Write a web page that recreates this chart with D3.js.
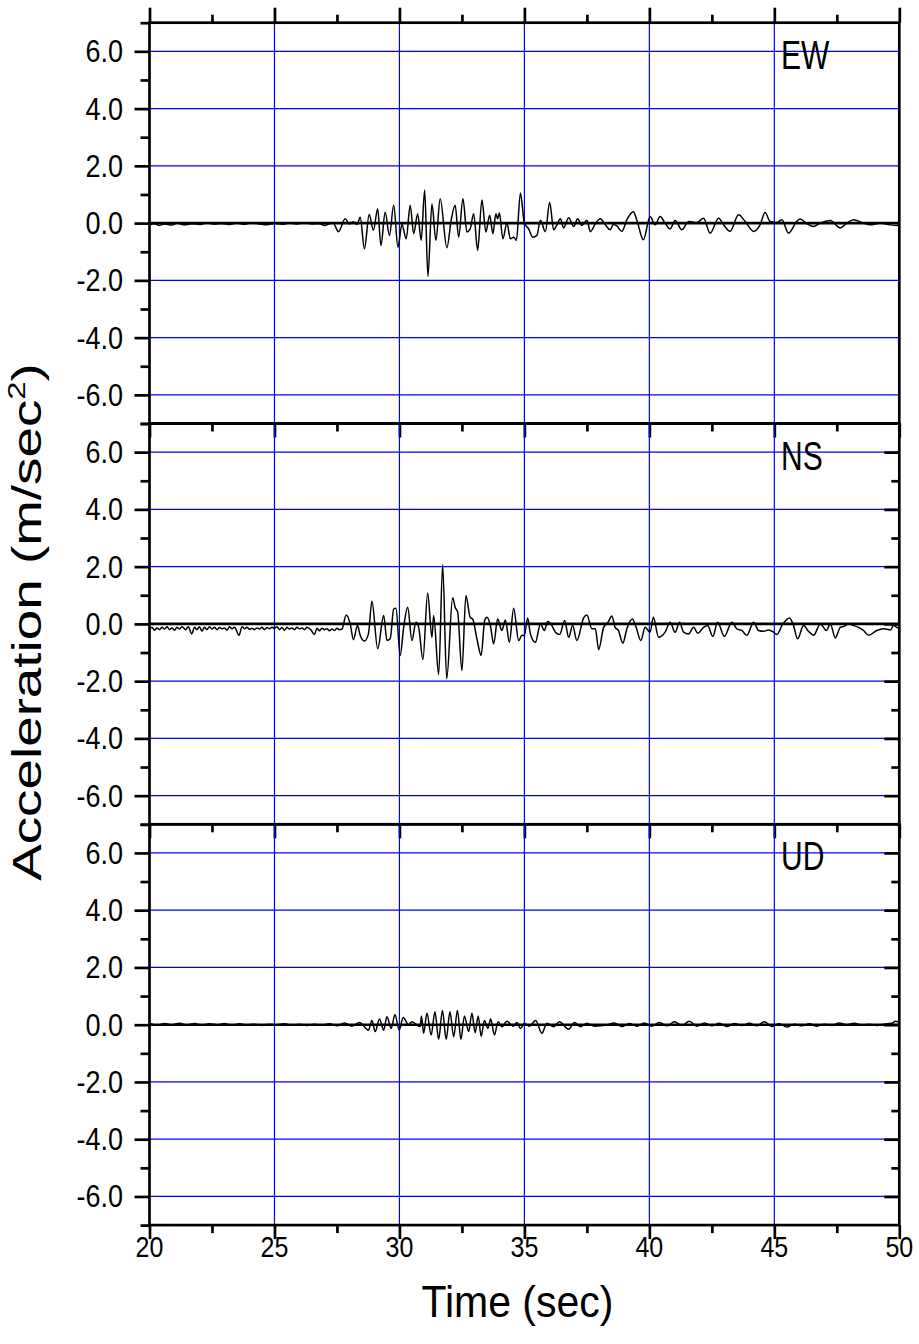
<!DOCTYPE html>
<html>
<head>
<meta charset="utf-8">
<script src="https://cdn.jsdelivr.net/npm/d3@7"></script>
<style>
  body { margin: 0; background: #fff; }
  text { font-family: "Liberation Sans", Arial, sans-serif; fill: #000; }
</style>
</head>
<body>
<svg id="chart" width="919" height="1344"></svg>
<script>
// turning points (time in s, acceleration in m/s^2)
const ewTime = [20.0,20.2,20.4,20.6,20.9,21.1,21.4,21.7,22.0,22.3,22.6,22.9,23.2,23.5,23.8,24.1,24.4,24.7,25.0,25.3,25.6,25.9,26.2,26.5,26.8,27.0,27.2,
  27.35,27.56,27.83,28.0,28.15,28.3,28.43,28.6,28.79,28.96,29.13,29.26,29.43,29.6,29.77,29.94,30.1,30.27,30.43,30.57,30.73,30.87,31.01,31.14,31.3,31.46,31.63,31.9,32.07,32.23,32.37,32.54,32.7,32.83,32.97,33.13,33.3,33.46,33.61,33.74,33.86,33.93,34.0,34.14,34.3,34.44,34.57,34.68,34.84,35.0,35.17,35.33,35.5,35.64,35.84,36.01,36.17,36.28,36.44,36.57,36.77,36.97,37.13,37.3,37.5,37.64,37.85,38.04,38.23,38.43,38.56,38.7,38.9,39.1,39.36,39.5,39.76,40.03,40.23,40.43,40.63,40.83,41.03,41.3,41.57,41.9,42.17,42.43,42.77,42.97,43.23,43.57,43.83,44.17,44.43,44.63,44.83,45.1,45.3,45.57,45.9,46.03,46.3,46.57,46.83,47.24,47.64,47.9,48.17,48.57,48.83,49.24,49.63,49.9,50.0];
const ewAcc = [-0.06,-0.02,-0.08,-0.03,-0.07,0.0,-0.06,-0.02,-0.05,0.01,-0.04,-0.01,-0.05,0.0,-0.04,0.01,-0.03,-0.06,-0.01,-0.04,0.0,-0.03,0.01,-0.03,-0.02,-0.08,-0.02,
  0.0,-0.3,0.15,-0.03,0.05,-0.05,0.2,-0.9,0.3,-0.25,0.5,-0.78,0.38,-0.43,0.62,-0.84,-0.05,-0.55,0.62,-0.37,0.33,-0.6,1.16,-1.86,0.67,-0.6,0.85,-0.86,0.1,0.62,-0.49,0.85,-0.31,-0.2,0.33,-0.95,0.81,-0.31,0.27,-0.37,0.33,0.15,0.35,-0.55,0.0,-0.55,-0.49,-0.6,1.05,0.0,-0.2,-0.49,-0.43,0.1,-0.3,0.73,-0.23,-0.1,0.15,-0.17,0.19,-0.12,0.15,-0.08,0.1,-0.3,0.0,0.15,-0.05,-0.23,-0.05,-0.1,-0.29,0.12,0.4,0.1,-0.58,0.23,-0.06,0.23,0.0,-0.2,0.09,-0.23,0.06,0.02,0.17,-0.35,0.17,-0.06,-0.29,0.29,0.06,-0.29,-0.06,0.37,0.06,0.02,0.12,-0.35,0.06,0.14,-0.02,-0.12,0.0,0.09,-0.17,0.0,0.12,0.0,-0.06,0.0,-0.06,-0.08,-0.05];

const nsTime = [20.0,20.1,20.2,20.3,20.4,20.5,20.6,20.7,20.8,20.9,21.0,21.1,21.2,21.3,21.45,21.55,21.69,21.8,21.9,22.0,22.1,22.2,22.3,22.4,22.5,22.6,22.7,22.8,22.9,23.0,23.1,23.2,23.3,23.4,23.58,23.7,23.8,23.9,24.0,24.1,24.2,24.3,24.4,24.5,24.6,24.7,24.8,24.9,25.0,25.1,25.2,25.3,25.4,25.5,25.6,25.7,25.8,25.9,26.0,26.1,26.2,26.3,26.45,26.6,26.7,26.8,26.9,27.0,27.1,27.2,27.3,27.4,27.5,27.6,27.7,
  27.87,28.03,28.16,28.32,28.43,28.6,28.76,28.9,29.13,29.37,29.5,29.63,29.77,29.86,30.03,30.17,30.33,30.5,30.66,30.77,30.94,31.13,31.3,31.37,31.57,31.73,31.89,32.13,32.23,32.33,32.5,32.66,32.83,32.93,33.1,33.27,33.41,33.5,33.64,33.77,33.93,34.1,34.24,34.4,34.57,34.77,34.9,35.0,35.13,35.24,35.44,35.64,35.8,35.93,36.1,36.24,36.41,36.61,36.77,36.93,37.1,37.37,37.5,37.7,37.84,37.97,38.17,38.35,38.5,
  38.63,38.76,38.94,39.1,39.32,39.47,39.66,39.83,40.03,40.16,40.37,40.63,40.83,41.03,41.21,41.37,41.57,41.77,41.94,42.17,42.33,42.54,42.73,43.0,43.3,43.5,43.7,43.9,44.17,44.37,44.57,44.77,44.97,45.1,45.34,45.61,45.77,45.93,46.17,46.37,46.57,46.84,47.08,47.24,47.44,47.64,47.77,47.97,48.17,48.37,48.57,48.77,49.1,49.37,49.64,49.77,49.9,50.0];
const nsAcc = [-0.2,-0.12,-0.22,-0.14,-0.2,-0.12,-0.18,-0.1,-0.2,-0.14,-0.22,-0.12,-0.18,-0.1,-0.2,-0.1,-0.35,-0.12,-0.2,-0.1,-0.25,-0.12,-0.2,-0.1,-0.18,-0.12,-0.2,-0.13,-0.17,-0.14,-0.22,-0.1,-0.17,-0.12,-0.4,-0.1,-0.17,-0.12,-0.19,-0.15,-0.2,-0.14,-0.18,-0.12,-0.2,-0.13,-0.17,-0.12,-0.15,-0.1,-0.2,-0.13,-0.22,-0.12,-0.18,-0.14,-0.2,-0.12,-0.17,-0.14,-0.2,-0.12,-0.2,-0.37,-0.15,-0.24,-0.15,-0.2,-0.17,-0.24,-0.18,-0.23,-0.15,-0.2,-0.18,
  0.31,0.0,-0.55,-0.06,-0.4,-0.6,-0.35,0.79,-0.87,0.29,-0.58,-0.52,0.52,0.55,-1.1,-0.12,0.58,-0.58,0.06,-0.12,-1.24,1.08,-0.47,0.29,-1.77,2.07,-1.92,0.91,0.58,0.41,-1.63,0.99,0.23,0.17,-0.52,-1.1,0.12,0.23,-0.06,-0.7,0.17,-0.23,0.14,-0.64,0.55,-0.58,-0.4,-0.41,0.21,-0.35,-0.64,0.0,-0.23,0.08,-0.06,-0.29,-0.37,0.12,-0.47,-0.06,-0.58,0.21,0.31,-0.17,-0.17,-0.9,-0.12,0.06,0.28,
  -0.12,-0.23,-0.67,-0.17,0.17,-0.12,-0.58,-0.12,-0.29,0.23,-0.47,-0.29,0.06,-0.29,0.06,-0.29,-0.35,-0.12,-0.33,-0.12,-0.06,-0.44,0.06,-0.44,0.06,-0.17,-0.23,-0.4,0.06,-0.23,-0.26,-0.21,-0.29,-0.37,0.0,0.21,-0.06,-0.52,-0.06,-0.26,-0.4,0.0,-0.23,0.0,-0.49,-0.12,-0.09,0.0,-0.06,-0.12,-0.23,-0.4,-0.23,-0.17,-0.21,-0.06,-0.12,-0.17];

const udTime = [20.0,20.3,20.6,20.9,21.2,21.5,21.8,22.1,22.4,22.7,23.0,23.3,23.6,23.9,24.2,24.5,24.8,25.1,25.4,25.7,26.0,26.3,26.6,26.9,27.2,27.5,27.8,28.1,28.4,
  28.76,28.9,29.03,29.2,29.37,29.5,29.67,29.82,29.99,30.15,30.37,30.5,30.83,30.88,30.97,31.1,31.27,31.42,31.57,31.72,31.87,32.02,32.17,32.32,32.46,32.6,32.77,32.9,33.03,33.15,33.27,33.4,33.54,33.65,33.8,33.95,34.1,34.3,34.55,34.7,34.84,35.0,35.2,35.45,35.7,35.9,36.17,36.4,36.77,37.0,37.24,37.5,37.8,38.31,38.6,38.9,39.2,39.5,39.8,40.1,40.4,40.7,41.0,41.3,41.6,41.9,42.2,42.5,42.8,43.1,43.4,43.7,44.0,44.3,44.6,44.9,45.2,45.5,45.8,46.1,46.4,46.7,47.0,47.3,47.6,47.9,48.2,48.5,48.8,49.1,49.4,49.7,49.85,50.0];
const udAcc = [0.05,-0.02,0.04,0.0,0.05,-0.01,0.04,-0.02,0.03,0.0,0.04,-0.02,0.03,-0.01,0.02,-0.03,0.02,0.0,0.03,-0.02,0.02,-0.03,0.02,-0.02,0.03,-0.04,0.06,-0.05,0.08,
  -0.19,0.15,-0.24,0.2,-0.19,0.28,-0.13,0.35,-0.19,0.25,0.0,0.1,-0.07,0.3,-0.3,0.4,-0.36,0.45,-0.51,0.5,-0.51,0.45,-0.42,0.5,-0.51,0.3,-0.24,0.4,-0.28,0.3,-0.4,0.15,-0.13,0.2,-0.36,0.1,-0.07,0.12,-0.05,0.08,-0.13,0.05,-0.05,0.15,-0.3,0.05,-0.07,0.1,-0.16,0.08,-0.07,0.05,-0.05,-0.01,0.06,-0.06,0.04,-0.05,0.06,-0.05,0.08,-0.04,0.1,-0.03,0.12,-0.05,0.06,-0.04,0.05,-0.06,0.04,-0.03,0.05,-0.04,0.1,-0.06,0.03,-0.08,0.02,-0.04,0.03,-0.05,0.02,-0.03,0.06,0.0,0.05,-0.02,0.02,-0.03,0.02,0.05,0.12,0.08];

const components = ["EW", "NS", "UD"];
const xTicks = [20, 25, 30, 35, 40, 45, 50];
const xMinor = [22.5, 27.5, 32.5, 37.5, 42.5, 47.5];
const yTicks = [-6, -4, -2, 0, 2, 4, 6];
const yMinor = [-7, -5, -3, -1, 1, 3, 5, 7];
const yTickLabels = ["-6.0", "-4.0", "-2.0", "0.0", "2.0", "4.0", "6.0"];

const traces = [
  { t: ewTime, a: ewAcc },
  { t: nsTime, a: nsAcc },
  { t: udTime, a: udAcc }
];

const svg = d3.select("#chart");
const plotLeft = 149.5, plotRight = 899.3, plotTop = 22.7, panelH = 400.8;
const axisW = 2.7;

const x = d3.scaleLinear().domain([20, 50]).range([plotLeft, plotRight]);

// the picture's lettering is a little taller than it is wide
function label(g, tx, ty, str, size, anchor, sy) {
  return g.append("text")
    .attr("transform", `translate(${tx},${ty}) scale(1,${sy})`)
    .attr("text-anchor", anchor)
    .style("font-size", size + "px")
    .text(str);
}

function styleAxis(g) {
  g.select(".domain").remove();
  g.selectAll(".tick line").attr("stroke", "#000").attr("stroke-width", axisW);
  g.selectAll(".tick text").remove();
}

traces.forEach((tr, i) => {
  const y0 = plotTop + i * panelH, y1 = y0 + panelH;
  const y = d3.scaleLinear().domain([-7, 7]).range([y1, y0]);
  const g = svg.append("g");

  // grid
  g.append("g").selectAll("line").data(xTicks.slice(1, -1)).enter().append("line")
    .attr("x1", d => x(d)).attr("x2", d => x(d)).attr("y1", y0).attr("y2", y1)
    .attr("stroke", "#0000ff").attr("stroke-width", 1.2);
  g.append("g").selectAll("line").data(yTicks).enter().append("line")
    .attr("x1", plotLeft).attr("x2", plotRight).attr("y1", d => y(d)).attr("y2", d => y(d))
    .attr("stroke", "#0000ff").attr("stroke-width", 1.2);

  // zero line
  g.append("line")
    .attr("x1", plotLeft).attr("x2", plotRight).attr("y1", y(0)).attr("y2", y(0))
    .attr("stroke", "#000").attr("stroke-width", 2.6);

  // record
  const line = d3.line()
    .x(d => x(d[0])).y(d => y(d[1]))
    .curve(d3.curveMonotoneX);
  g.append("path")
    .datum(d3.zip(tr.t, tr.a))
    .attr("d", line)
    .attr("fill", "none")
    .attr("stroke", "#000")
    .attr("stroke-width", 1.5)
    .attr("stroke-linejoin", "round");

  // frame
  g.append("rect")
    .attr("x", plotLeft).attr("y", y0).attr("width", plotRight - plotLeft).attr("height", panelH)
    .attr("fill", "none").attr("stroke", "#000").attr("stroke-width", axisW);

  // left ticks (outward)
  g.append("g").attr("transform", `translate(${plotLeft},0)`)
    .call(d3.axisLeft(y).tickValues(yTicks).tickSize(15).tickSizeOuter(0)).call(styleAxis);
  g.append("g").attr("transform", `translate(${plotLeft},0)`)
    .call(d3.axisLeft(y).tickValues(yMinor).tickSize(9).tickSizeOuter(0)).call(styleAxis);

  // right ticks (inward) on the lower two panels
  if (i > 0) {
    g.append("g").attr("transform", `translate(${plotRight},0)`)
      .call(d3.axisLeft(y).tickValues(yTicks).tickSize(15).tickSizeOuter(0)).call(styleAxis);
    g.append("g").attr("transform", `translate(${plotRight},0)`)
      .call(d3.axisLeft(y).tickValues(yMinor.slice(1, -1)).tickSize(8).tickSizeOuter(0)).call(styleAxis);
  }

  // top ticks on the first panel
  if (i === 0) {
    g.append("g").attr("transform", `translate(0,${y0})`)
      .call(d3.axisTop(x).tickValues(xTicks).tickSize(15).tickSizeOuter(0)).call(styleAxis);
    g.append("g").attr("transform", `translate(0,${y0})`)
      .call(d3.axisTop(x).tickValues(xMinor).tickSize(8).tickSizeOuter(0)).call(styleAxis);
  }

  // bottom ticks (pointing down)
  g.append("g").attr("transform", `translate(0,${y1})`)
    .call(d3.axisBottom(x).tickValues(xTicks).tickSize(14).tickSizeOuter(0)).call(styleAxis);
  g.append("g").attr("transform", `translate(0,${y1})`)
    .call(d3.axisBottom(x).tickValues(xMinor).tickSize(8).tickSizeOuter(0)).call(styleAxis);

  // y tick labels
  yTicks.forEach((v, k) => label(g, 123, y(v) + 11, yTickLabels[k], 27, "end", 1.14));

  // component name
  label(g, 781, y0 + 46, components[i], 30, "start", 1.35);

  if (i === 2) {
    xTicks.forEach(v => label(g, x(v), y1 + 32, String(v), 25, "middle", 1.2));
  }
});

// axis titles
label(svg, (plotLeft + plotRight) / 2 - 7, 1317, "Time (sec)", 41, "middle", 1.1);

const yTitle = svg.append("text")
  .attr("transform", `translate(41,622) scale(1,1.37) rotate(-90)`)
  .attr("text-anchor", "middle")
  .style("font-size", "40px");
yTitle.append("tspan").text("Acceleration (m/sec");
yTitle.append("tspan").attr("dy", -16).style("font-size", "24px").text("2");
yTitle.append("tspan").attr("dy", 16).text(")");
</script>
</body>
</html>
